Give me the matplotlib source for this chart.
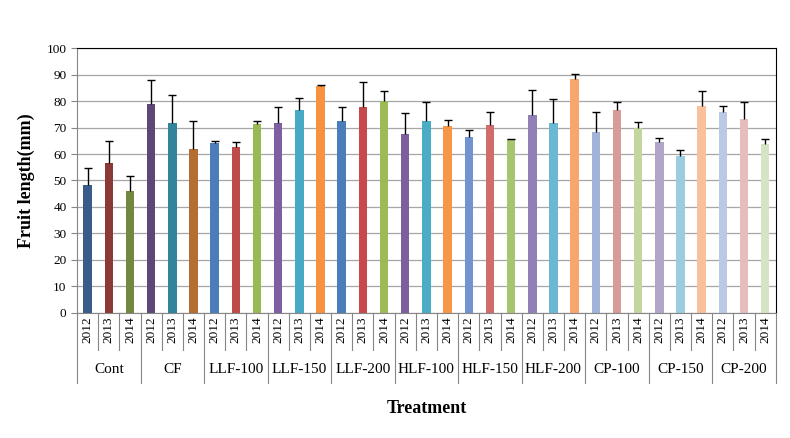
import numpy as np
import matplotlib
matplotlib.use("Agg")
import matplotlib.pyplot as plt
from matplotlib.transforms import blended_transform_factory

plt.rcParams['font.family'] = ['Liberation Serif', 'DejaVu Serif']

treatments = ['Cont', 'CF', 'LLF-100', 'LLF-150', 'LLF-200', 'HLF-100',
              'HLF-150', 'HLF-200', 'CP-100', 'CP-150', 'CP-200']
years = ['2012', '2013', '2014']

# mean fruit length (mm), 3 years per treatment
means = [48.3, 56.6, 46.0,
         78.8, 71.6, 61.9,
         64.1, 62.6, 71.3,
         71.6, 76.5, 85.8,
         72.4, 77.7, 79.9,
         67.5, 72.5, 70.5,
         66.4, 70.9, 65.7,
         74.7, 71.8, 88.2,
         68.3, 76.5, 70.0,
         64.5, 59.2, 78.2,
         75.9, 73.1, 63.7]
# upper error bar size
errors = [6.4, 8.3, 5.6,
          9.3, 10.5, 10.5,
          0.8, 1.8, 1.3,
          6.3, 4.8, 0.2,
          5.5, 9.3, 3.7,
          7.9, 7.3, 2.5,
          2.5, 4.9, 0.0,
          9.6, 8.8, 2.1,
          7.4, 3.3, 1.9,
          1.6, 2.2, 5.4,
          2.4, 6.4, 2.0]

colors = ['#385D8A', '#8C3836', '#71893F',
          '#5C4776', '#31849B', '#B66D31',
          '#4A7EBB', '#BE4B48', '#98B954',
          '#7D60A0', '#46AAC5', '#F69240',
          '#4A7DB9', '#C8494A', '#9BBB59',
          '#7D5FA0', '#4BACC6', '#F79646',
          '#7193CF', '#CF6D6B', '#A6C56E',
          '#9180B6', '#6BB8D4', '#F9A56E',
          '#A1B3D9', '#D99B9A', '#C4D6A0',
          '#B1A5C8', '#9BCCE0', '#FAC09B',
          '#BBCAE3', '#E5BDBC', '#D6E3C5']

n = len(means)
x = np.arange(n)

fig = plt.figure(figsize=(7.9, 4.38), dpi=100)
ax = fig.add_axes([0.0975, 0.2854, 0.8845, 0.605])

ax.bar(x, means, width=0.4, color=colors, zorder=2)
_, caps, _ = ax.errorbar(x, means, yerr=[np.zeros(n), errors], fmt='none',
                         ecolor='black', elinewidth=1, capsize=2.6,
                         capthick=1, zorder=3)
caps[0].set_visible(False)  # no cap at the bar top

ax.set_xlim(-0.5, n - 0.5)
ax.set_ylim(0, 100)
ax.set_yticks(np.arange(0, 101, 10))
ax.yaxis.grid(True, color='#A6A6A6', linewidth=0.9, zorder=0)
ax.set_axisbelow(True)
ax.tick_params(axis='y', labelsize=9.5, color='#868686', length=4, direction='out')
ax.set_xticks([])

for side in ['left', 'bottom']:
    ax.spines[side].set_color('#868686')
ax.spines['top'].set_color('black')
ax.spines['right'].set_color('black')

trans = blended_transform_factory(ax.transData, ax.transAxes)
for i in range(n):
    ax.text(i, -0.012, years[i % 3], rotation=90, ha='center', va='top',
            fontsize=9.5, transform=trans)
for b in range(n + 1):
    pos = b - 0.5
    low = -0.265 if b % 3 == 0 else -0.14
    ax.plot([pos, pos], [0, low], color='#868686', linewidth=0.8,
            transform=trans, clip_on=False)
for g, name in enumerate(treatments):
    ax.text(3 * g + 1, -0.215, name, ha='center', va='center',
            fontsize=11, transform=trans)

ax.set_ylabel('Fruit length(mm)', fontsize=13, fontweight='bold', labelpad=8)
fig.text(0.54, 0.068, 'Treatment', ha='center', va='center',
         fontsize=13, fontweight='bold')

fig.savefig('out.png', dpi=100)
